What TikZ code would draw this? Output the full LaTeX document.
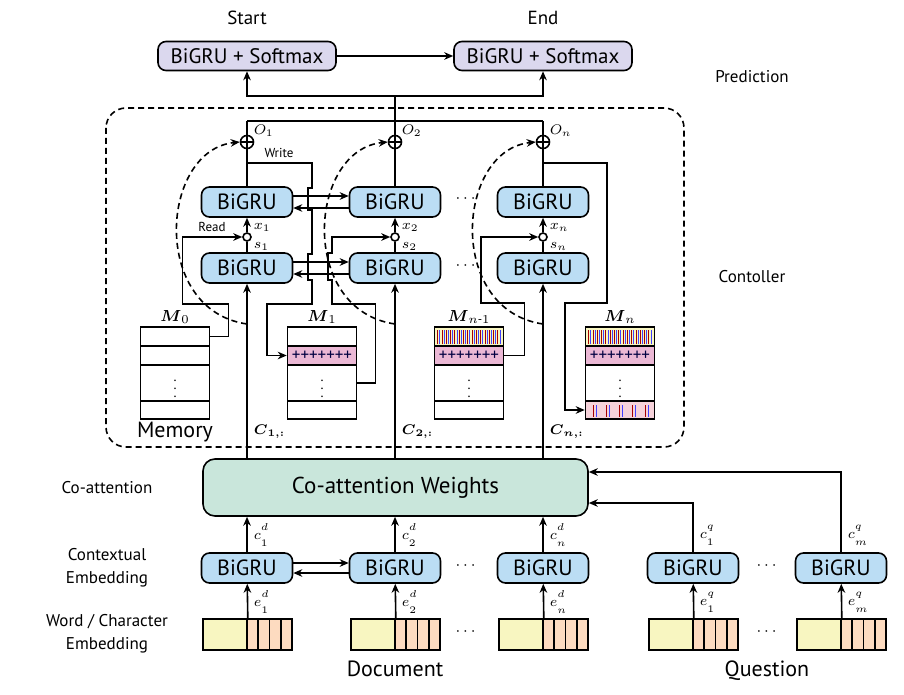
\documentclass[tikz,border=0pt]{standalone}
\usepackage{amsmath}
\usepackage{fontspec}
\setmainfont{PT Sans}
\usetikzlibrary{arrows.meta,calc,positioning}

\definecolor{lavender}{HTML}{DBD8EE}
\definecolor{grublue}{HTML}{BBDDF4}
\definecolor{mint}{HTML}{C9E6DB}
\definecolor{wordcol}{HTML}{F8F6C1}
\definecolor{charcol}{HTML}{FDDBC0}
\definecolor{pinkrow}{HTML}{EBB8D5}
\definecolor{lightpink}{HTML}{F6D2DA}

% vector label with raised superscript and lowered subscript
\newcommand{\veclbl}[3]{$#1^{\raisebox{1.5pt}{$\scriptstyle #2$}}_{\raisebox{-1.5pt}{$\scriptstyle #3$}}$}

\begin{document}
\begin{tikzpicture}[x=0.5pt,y=-0.5pt,line width=0.8pt,
	arr/.style={-{Stealth[length=4.5pt,width=3.8pt]}},
	gru/.style={draw,rounded corners=4pt,fill=grublue,minimum width=45.5pt,minimum height=15pt,inner sep=0pt,font=\fontsize{11}{12}\selectfont},
	softmax/.style={gru,fill=lavender,minimum width=89pt,minimum height=14.5pt,font=\fontsize{10.5}{12}\selectfont},
	att/.style={draw,rounded corners=6pt,fill=mint,minimum width=192.5pt,minimum height=28.5pt,font=\fontsize{11.5}{13}\selectfont},
	oplus/.style={circle,draw,minimum size=6.5pt,inner sep=0pt,
		path picture={\draw (path picture bounding box.north) -- (path picture bounding box.south)
			(path picture bounding box.west) -- (path picture bounding box.east);}},
	rdot/.style={circle,draw,fill=white,minimum size=4pt,inner sep=0pt},
	memrow/.style={draw,minimum width=34.5pt,minimum height=9.5pt,inner sep=0pt,font=\fontsize{7}{7}\selectfont},
	word/.style={draw,fill=wordcol,minimum width=22pt,minimum height=15.5pt,inner sep=0pt},
	char/.style={draw,fill=charcol,minimum width=5.625pt,minimum height=15.5pt,inner sep=0pt},
	title/.style={font=\fontsize{9.5}{11}\selectfont},
	side/.style={font=\fontsize{8.5}{11.5}\selectfont,align=center},
	big/.style={font=\fontsize{11}{12}\selectfont},
	lbl/.style={font=\fontsize{7}{8}\selectfont,inner sep=0pt,anchor=west},
	rwlbl/.style={font=\fontsize{6.5}{7}\selectfont,inner sep=0pt},
	mlbl/.style={font=\fontsize{8}{9}\selectfont,inner sep=0pt},
	dots/.style={font=\fontsize{8}{8}\selectfont}]

	\useasboundingbox (0,0) rectangle (904,695);

	% Prediction
	\node[softmax] (sm1) at (247,56) {BiGRU + Softmax};
	\node[softmax] (sm2) at (543,56) {BiGRU + Softmax};
	\node[title] (start) at (247,18) {Start};
	\node[title] (end) at (543,18) {End};
	\node[side] (pred) at (752,77) {Prediction};
	\draw[arr] (sm1) -- (sm2);

	% Controller
	\draw[dashed,dash pattern=on 3pt off 2pt,rounded corners=10pt] (106,108) rectangle (684,447);
	\node[side] (ctrl) at (752,277) {Contoller};
	\node[att] (att) at (395.5,487.5) {Co-attention Weights};
	\coordinate (top) at (395,121);
	\coordinate (split) at (395,96);
	\foreach \c/\x in {1/247,2/395,n/543}{
		\node[oplus] (ad\c) at (\x,142) {};
		\node[gru] (up\c) at (\x,202) {BiGRU};
		\node[rdot] (rd\c) at (\x,237) {};
		\node[gru] (lo\c) at (\x,268) {BiGRU};
		\node[lbl] at (\x+6,131) {$O_{\c}$};
		\node[lbl] at (\x+6,227) {$x_{\c}$};
		\node[lbl] at (\x+6,246) {$s_{\c}$};
		\node[lbl] at (\x+6,432) {$\boldsymbol{C}_{\boldsymbol{\c,:}}$};
		\draw (lo\c) -- (rd\c);
		\draw[arr] (rd\c) -- (up\c);
		\draw (up\c) -- (ad\c);
		\draw (ad\c) -- (ad\c |- top);
		\draw[arr] (att.north -| lo\c) -- (lo\c);
		\draw[dashed,dash pattern=on 3pt off 2pt,arr] (\x,324) .. controls (\x-97,310) and (\x-87,150) .. (ad\c.west);
	}
	\draw (ad1 |- top) -- (adn |- top);
	\draw (top) -- (split);
	\draw[arr] (split) -| (sm1);
	\draw[arr] (split) -| (sm2);
	\foreach \r in {up,lo}{
		\draw[arr] ([yshift=3pt]\r1.east) -- ([yshift=3pt]\r2.west);
		\draw[arr] ([yshift=-3pt]\r2.west) -- ([yshift=-3pt]\r1.east);
	}
	\node[dots] at (467,199) {$\cdots$};
	\node[dots] at (467,266) {$\cdots$};

	% Memory
	\foreach \m/\cx/\fa/\fb/\fd in {m0/175/white/white/white, m1/322/white/pinkrow/white,
		mp/469/wordcol/pinkrow/white, mn/620/wordcol/pinkrow/lightpink}{
		\node[memrow,fill=\fa] (\m a) at (\cx,336.5) {};
		\node[memrow,fill=\fb] (\m b) at (\cx,355.5) {};
		\node[memrow,minimum height=18pt] (\m c) at (\cx,383) {$\vdots$};
		\node[memrow,minimum height=9pt,fill=\fd] (\m d) at (\cx,410) {};
	}
	\foreach \m in {m1,mp,mn}
		\node[font=\fontsize{8.5}{8}\selectfont,text=black!75!blue] at (\m b) {+++++++};
	\foreach \m in {mp,mn}{
		\foreach \i in {0,...,14}{
			\draw[line width=0.45pt,red!65!black] ($(\m a.south west)+(4+\i*4.3,-2.5)$) -- ++(0,-14);
			\draw[line width=0.45pt,blue!75] ($(\m a.south west)+(6.1+\i*4.3,-2.5)$) -- ++(0,-14);
		}
	}
	\foreach \i in {0,...,4}{
		\draw[line width=0.6pt,red!65!black] ($(mnd.south west)+(9+\i*13,-3)$) -- ++(0,-12);
		\draw[line width=0.6pt,blue!75] ($(mnd.south west)+(12+\i*13,-3)$) -- ++(0,-12);
	}
	\node[mlbl] at (175,317) {$\boldsymbol{M}_0$};
	\node[mlbl] at (322,317) {$\boldsymbol{M}_1$};
	\node[mlbl] at (469,317) {$\boldsymbol{M}_{n\text{-}1}$};
	\node[mlbl] at (620,317) {$\boldsymbol{M}_n$};
	\node[big] (memory) at (175,432) {Memory};

	% Read and write
	\draw[arr] (m0a.east) -- ++(18,0) -- ++(0,-32.5) -- ++(-46,0) |- (rd1);
	\draw[arr] (m1c.east) -- ++(18,0) |- (332,304) -- (332,280) -- (328,280) -- (328,253) -- (332,253) |- (rd2);
	\draw[arr] (mpb.east) -- ++(20,0) |- (481,303) |- (rdn);
	\node[rwlbl] at (212,227) {Read};
	\coordinate (w1) at (247,163);
	\coordinate (wn) at (543,163);
	\draw[arr] (w1) -- (312,163) -- (312,188) -- (308,188) -- (308,210) -- (312,210) -- (312,254)
		-- (308,254) -- (308,280) -- (312,280) -- (312,304) -- (267,304) |- (m1b);
	\draw[arr] (wn) -- (607,163) -- (607,303) -- (565,303) |- (mnd);
	\node[rwlbl] at (279,153) {Write};

	% Embeddings
	\foreach \n/\x/\s/\i in {d1/247/d/1,d2/395/d/2,dn/543/d/n,q1/693/q/1,qm/841/q/m}{
		\node[gru] (g\n) at (\x,568) {BiGRU};
		\node[word] (w\n) at (\x-22,634.5) {};
		\foreach \k in {0,...,3}
			\node[char] at (\x+5.6+\k*11.25,634.5) {};
		\draw[arr] (w\n.north east) -- (g\n);
		\node[lbl] at (\x+6,602) {\veclbl{e}{\s}{\i}};
		\node[lbl] at (\x+6,535) {\veclbl{c}{\s}{\i}};
	}
	\foreach \n in {d1,d2,dn}
		\draw[arr] (g\n) -- (g\n |- att.south);
	\draw[arr] (gq1) |- ([yshift=-7.75pt]att.east);
	\draw[arr] (gqm) |- ([yshift=7.75pt]att.east);
	\draw[arr] ([yshift=2.5pt]gd1.east) -- ([yshift=2.5pt]gd2.west);
	\draw[arr] ([yshift=-2.5pt]gd2.west) -- ([yshift=-2.5pt]gd1.east);
	\node[dots] at (467,566) {$\cdots$};
	\node[dots] at (467,632) {$\cdots$};
	\node[dots] at (768,566) {$\cdots$};
	\node[dots] at (768,632) {$\cdots$};
	\node[big,anchor=base] (doc) at (395,676) {Document};
	\node[big,anchor=base] (que) at (767,676) {Question};
	\node[side] (coatt) at (107,488) {Co-attention};
	\node[side] (ctx) at (107,568) {Contextual\\Embedding};
	\node[side] (wce) at (107,634) {Word / Character\\Embedding};
\end{tikzpicture}
\end{document}
